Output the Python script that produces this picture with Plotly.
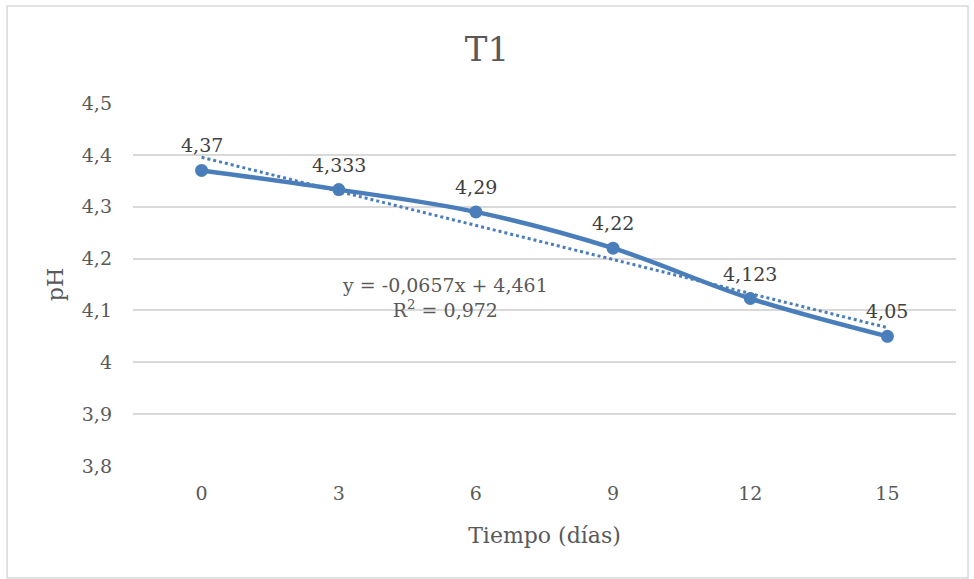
import plotly.graph_objects as go

days = ["0", "3", "6", "9", "12", "15"]
ph = [4.37, 4.333, 4.29, 4.22, 4.123, 4.05]
trend_slope = -0.0657
trend_intercept = 4.461
r2 = 0.972

FONT = "DejaVu Serif"
GREY = "#595959"
BLUE = "#4A7EBB"

trend_y = [trend_slope * (i + 1) + trend_intercept for i in range(len(days))]
labels = [str(v).replace(".", ",") for v in ph]

fig = go.Figure()
fig.add_trace(go.Scatter(
    x=days, y=trend_y, mode="lines",
    line=dict(color=BLUE, width=3, dash="dot"),
    hoverinfo="skip", showlegend=False,
))
fig.add_trace(go.Scatter(
    x=days, y=ph, mode="lines+markers",
    line=dict(color=BLUE, width=4.5, shape="spline", smoothing=1.0),
    marker=dict(color=BLUE, size=13),
    showlegend=False,
))
for i, (v, t) in enumerate(zip(ph, labels)):
    fig.add_annotation(x=i, y=v, text=t, showarrow=False, yshift=25,
                       font=dict(family=FONT, size=19, color="#404040"))

eq = (f"y = {str(trend_slope).replace('.', ',')}x + {str(trend_intercept).replace('.', ',')}"
      f"<br>R<sup>2</sup> = {str(r2).replace('.', ',')}")
fig.add_annotation(
    x=0.379, xref="paper", y=4.125, yref="y", text=eq, showarrow=False,
    font=dict(family=FONT, size=19, color=GREY), align="center",
)

fig.add_shape(type="rect", xref="paper", yref="paper",
              x0=-0.153, x1=1.0146, y0=-0.3085, y1=1.267,
              line=dict(color="#d9d9d9", width=1.5), layer="below")

fig.update_layout(
    width=974, height=579,
    margin=dict(l=133, r=18, t=103, b=113),
    paper_bgcolor="white", plot_bgcolor="white",
    separators=", ",
    title=dict(text="T1", x=0.5, xanchor="center", y=0.915, yanchor="middle",
               font=dict(family=FONT, size=34, color=GREY)),
    font=dict(family=FONT, color=GREY),
    xaxis=dict(type="category", range=[-0.5, 5.5], showgrid=False, showline=False,
               zeroline=False, ticks="", ticklabelstandoff=14,
               tickfont=dict(family=FONT, size=19, color=GREY),
               title=dict(text="Tiempo (días)", font=dict(family=FONT, size=22, color=GREY),
                          standoff=24)),
    yaxis=dict(range=[3.8, 4.5], dtick=0.1, tick0=3.8, showgrid=True,
               gridcolor="#d9d9d9", gridwidth=1.5, zeroline=False, showline=False,
               ticks="", ticklabelstandoff=20,
               tickfont=dict(family=FONT, size=19, color=GREY),
               title=dict(text="pH", font=dict(family=FONT, size=22, color=GREY),
                          standoff=12)),
)

fig.write_html("out.html")
